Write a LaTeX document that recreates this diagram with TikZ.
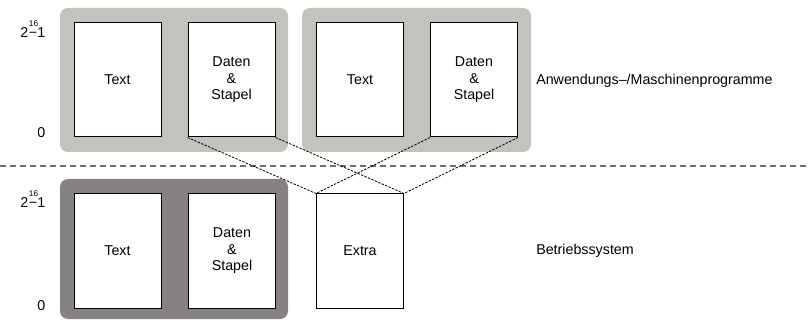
\documentclass[tikz,border=0pt]{standalone}
\usepackage{fontspec}
\setmainfont{Liberation Sans}
\definecolor{appgray}{RGB}{192,196,188}
\definecolor{osgray}{RGB}{134,129,132}
\definecolor{sepgray}{RGB}{110,110,110}
\newcommand{\topaddr}{2\kern0.4pt\rlap{\raisebox{8.6pt}{\fontsize{6.2pt}{7pt}\selectfont 16}}−1}
\begin{document}
\begin{tikzpicture}[x=0.75pt,y=-0.75pt,
  every node/.style={font=\fontsize{10.7pt}{12.4pt}\selectfont},
  group/.style={rounded corners=6pt, inner sep=0pt, draw=none},
  mem/.style={draw=black, fill=white, line width=0.75pt, inner sep=0pt,
    minimum width={87*0.75pt}, minimum height={114*0.75pt}, align=center},
  link/.style={line width=0.6pt, dash pattern=on 1.8pt off 1pt},
  sep/.style={draw=sepgray, line width=1.1pt, dash pattern=on 4.5pt off 3pt},
  axis/.style={anchor=base east, inner sep=0pt}]
\useasboundingbox (0,0) rectangle (809,320);
% groups
\node[group, fill=appgray, minimum width={228*0.75pt}, minimum height={144*0.75pt}] (g1) at (174,80) {};
\node[group, fill=appgray, minimum width={229*0.75pt}, minimum height={144*0.75pt}] (g2) at (416.5,80) {};
\node[group, fill=osgray, minimum width={228*0.75pt}, minimum height={140*0.75pt}] (g3) at (174,249) {};
% separator
\coordinate (sl) at (0,166);
\coordinate (sr) at (809,166);
\draw[sep] (sl) -- (sr);
% memory boxes
\node[mem] (t1) at (117.5,80) {Text};
\node[mem] (d1) at (231.5,80) {Daten\\\&\\Stapel};
\node[mem] (t2) at (360,80) {Text};
\node[mem] (d2) at (474,80) {Daten\\\&\\Stapel};
\node[mem] (t3) at (117.5,251) {Text};
\node[mem] (d3) at (232,251) {Daten\\\&\\Stapel};
\node[mem] (ex) at (360,251) {Extra};
% links
\draw[link] (d1.south west) -- (ex.north west);
\draw[link] (d1.south east) -- (ex.north east);
\draw[link] (d2.south west) -- (ex.north west);
\draw[link] (d2.south east) -- (ex.north east);
% axis labels
\node[axis] (a1) at (45.5,38) {\topaddr};
\node[axis] (a2) at (45.5,138) {0};
\node[axis] (a3) at (45.5,208) {\topaddr};
\node[axis] (a4) at (45.5,310) {0};
% side labels
\node[anchor=west, inner sep=0pt] (l1) at (536,81) {Anwendungs–/Maschinenprogramme};
\node[anchor=west, inner sep=0pt] (l2) at (536,251) {Betriebssystem};
\end{tikzpicture}
\end{document}
